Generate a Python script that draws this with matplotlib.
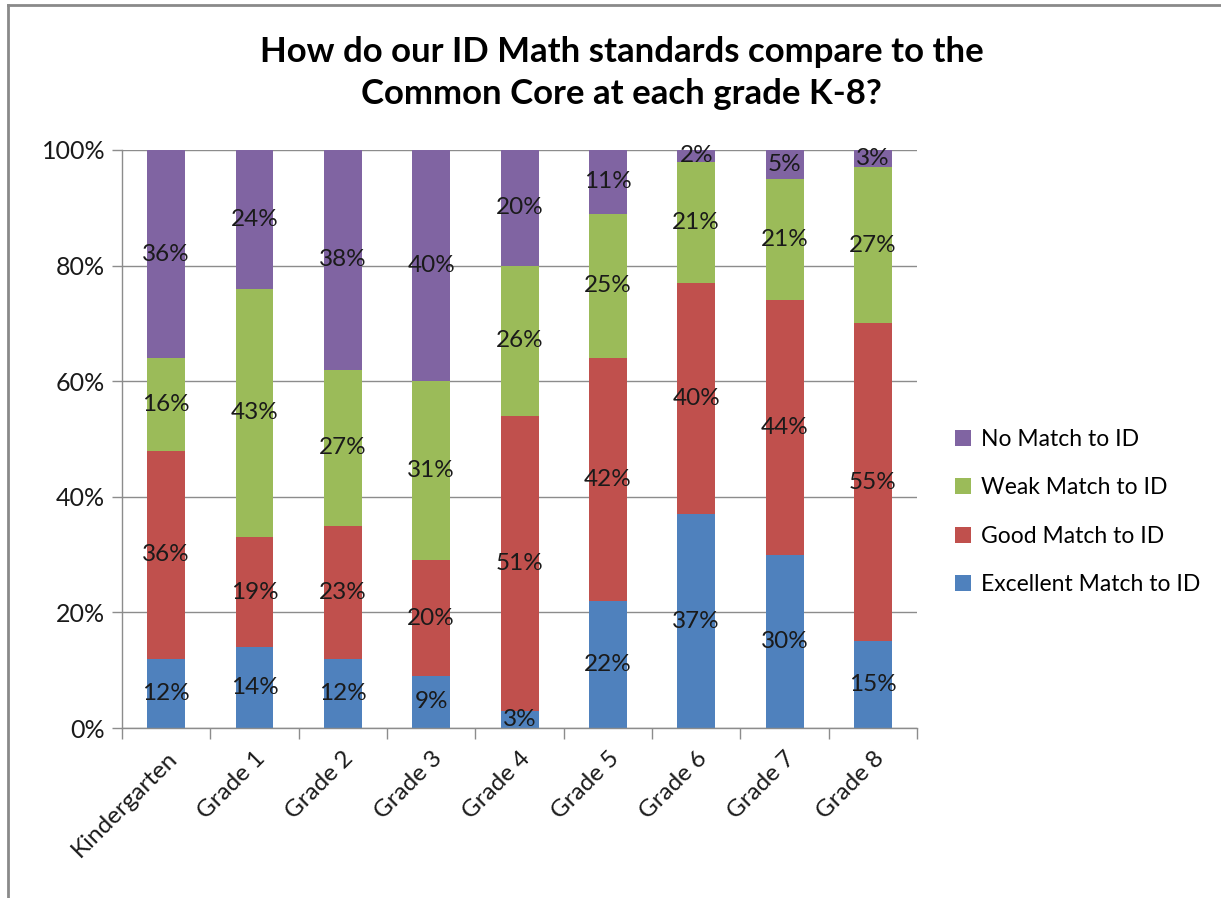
import matplotlib
matplotlib.use("Agg")
import matplotlib.pyplot as plt
from matplotlib.lines import Line2D
import numpy as np

plt.rcParams['font.family'] = ['Lato', 'DejaVu Sans']

categories = ["Kindergarten", "Grade 1", "Grade 2", "Grade 3", "Grade 4",
              "Grade 5", "Grade 6", "Grade 7", "Grade 8"]
excellent = [12, 14, 12, 9, 3, 22, 37, 30, 15]
good      = [36, 19, 23, 20, 51, 42, 40, 44, 55]
weak      = [16, 43, 27, 31, 26, 25, 21, 21, 27]
no_match  = [36, 24, 38, 40, 20, 11, 2, 5, 3]
series_names = ["Excellent Match to ID", "Good Match to ID", "Weak Match to ID", "No Match to ID"]
colors = ["#4F81BD", "#C0504D", "#9BBB59", "#8064A2"]
title = "How do our ID Math standards compare to the\nCommon Core at each grade K-8?"

fig = plt.figure(figsize=(12.21, 8.98), dpi=100)
ax = fig.add_axes([0.0999, 0.1893, 0.6512, 0.6437])

x = np.arange(len(categories))
data = [excellent, good, weak, no_match]
bottom = np.zeros(len(categories))
handles = []
for vals, name, c in zip(data, series_names, colors):
    vals = np.array(vals, dtype=float)
    bars = ax.bar(x, vals, 0.43, bottom=bottom, color=c, label=name, zorder=2)
    for xi, b, v in zip(x, bottom, vals):
        ax.text(xi, b + v / 2, f"{int(round(v))}%", ha='center', va='center',
                fontsize=17.5, color='#1a1a1a', zorder=3)
    bottom += vals
    handles.append(bars)

ax.set_xlim(-0.5, len(categories) - 0.5)
ax.set_ylim(0, 100)
ax.set_yticks([0, 20, 40, 60, 80, 100])
ax.set_yticklabels(["0%", "20%", "40%", "60%", "80%", "100%"], fontsize=18, color='#1a1a1a')
ax.yaxis.grid(True, color='#8c8c8c', linewidth=1.0, zorder=0)
ax.set_axisbelow(True)
ax.tick_params(axis='y', length=7, width=1, color='#8c8c8c', pad=5)

ax.set_xticks(x)
ax.set_xticklabels(categories, rotation=45, ha='right', rotation_mode='anchor',
                   fontsize=17.5, color='#1a1a1a')
ax.tick_params(axis='x', length=0, pad=14)
ax.set_xticks(np.arange(-0.5, len(categories), 1), minor=True)
ax.tick_params(axis='x', which='minor', length=8, width=1, color='#8c8c8c')

for s in ['top', 'right']:
    ax.spines[s].set_visible(False)
for s in ['left', 'bottom']:
    ax.spines[s].set_color('#8c8c8c')
    ax.spines[s].set_linewidth(1)

h = handles[::-1]
leg = fig.legend(h, [b.get_label() for b in h], loc='center left',
                 bbox_to_anchor=(0.765, 0.43), frameon=False, fontsize=16.5,
                 handlelength=0.7, handleheight=0.7, handletextpad=0.45,
                 labelspacing=1.2)

fig.text(0.509, 0.919, title, ha='center', va='center', fontsize=25,
         fontweight='bold', color='black', linespacing=1.4)

# outer frame lines (left and top)
fig.add_artist(Line2D([8 / 1221, 8 / 1221], [0, 1 - 5 / 898], transform=fig.transFigure,
                      color='#8a8a8a', linewidth=2))
fig.add_artist(Line2D([8 / 1221, 1], [1 - 5 / 898, 1 - 5 / 898], transform=fig.transFigure,
                      color='#8a8a8a', linewidth=2))

fig.savefig("out.png", dpi=100)
